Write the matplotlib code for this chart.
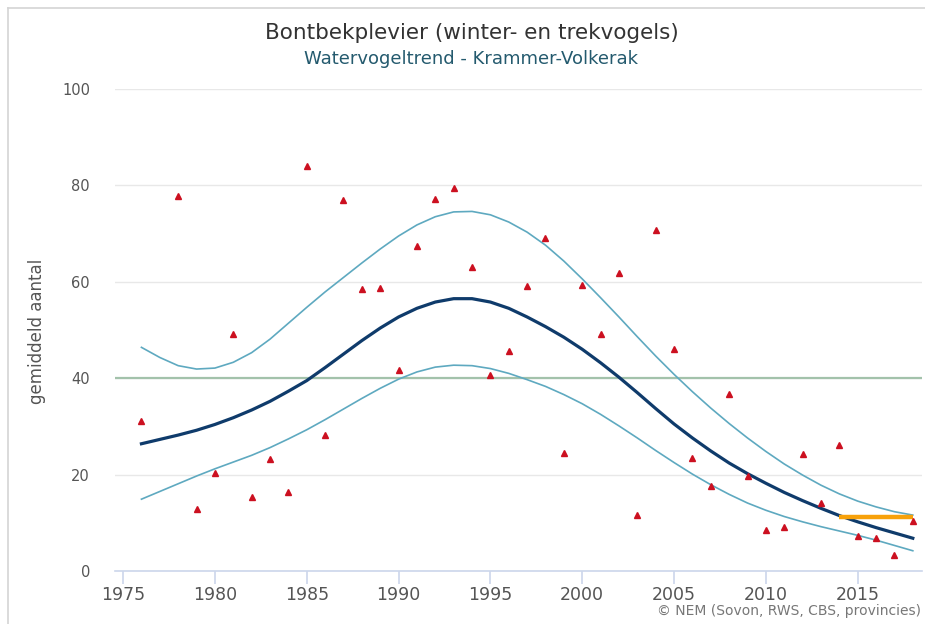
import matplotlib
matplotlib.use("Agg")
import matplotlib.pyplot as plt
from matplotlib.lines import Line2D

# --- data -------------------------------------------------------------
years = list(range(1976, 2019))

counts = [31.2, None, 77.8, 12.9, 20.4, 49.2, 15.3, 23.3, 16.3, 84.0,
          28.2, 76.9, 58.5, 58.8, 41.8, 67.5, 77.1, 79.4, 63.1, 40.6,
          45.6, 59.2, 69.1, 24.4, 59.4, 49.1, 61.9, 11.7, 70.8, 46.1,
          23.4, 17.6, 36.8, 19.7, 8.5, 9.1, 24.3, 14.2, 26.2, 7.2,
          6.9, 3.3, 10.3]

trend = [26.4, 27.3, 28.2, 29.2, 30.4, 31.8, 33.4, 35.2, 37.3, 39.5,
         42.2, 45.0, 47.8, 50.4, 52.7, 54.5, 55.8, 56.5, 56.5, 55.8,
         54.5, 52.7, 50.7, 48.5, 46.0, 43.2, 40.2, 37.0, 33.7, 30.5,
         27.6, 24.9, 22.4, 20.2, 18.2, 16.3, 14.6, 13.0, 11.5, 10.2,
         9.0, 7.9, 6.8]

upper = [46.4, 44.3, 42.6, 41.9, 42.1, 43.3, 45.3, 48.1, 51.4, 54.7,
         57.9, 60.9, 63.9, 66.8, 69.5, 71.8, 73.5, 74.5, 74.6, 73.9,
         72.4, 70.3, 67.6, 64.3, 60.6, 56.7, 52.7, 48.6, 44.6, 40.8,
         37.2, 33.8, 30.6, 27.6, 24.8, 22.2, 19.9, 17.8, 16.0, 14.5,
         13.3, 12.3, 11.6]

lower = [14.9, 16.5, 18.1, 19.7, 21.2, 22.6, 24.0, 25.6, 27.4, 29.3,
         31.4, 33.6, 35.8, 37.9, 39.8, 41.3, 42.3, 42.7, 42.6, 42.0,
         41.0, 39.7, 38.3, 36.6, 34.7, 32.5, 30.1, 27.6, 25.0, 22.5,
         20.1, 17.9, 15.9, 14.1, 12.6, 11.3, 10.2, 9.2, 8.3, 7.4,
         6.4, 5.3, 4.2]

recent_years = [2014, 2018]
recent_level = [11.3, 11.3]

reference_level = 40

x_ticks = [1975, 1980, 1985, 1990, 1995, 2000, 2005, 2010, 2015]
y_ticks = [0, 20, 40, 60, 80, 100]

# --- figure -----------------------------------------------------------
W, H = 925, 624
fig = plt.figure(figsize=(W / 100, H / 100), dpi=100)
fig.patch.set_facecolor("white")

ax = fig.add_axes([115 / W, 1 - 571 / H, (922 - 115) / W, (571 - 89) / H])
ax.set_xlim(1974.56, 2018.5)
ax.set_ylim(0, 100)

for s in ("left", "right", "top"):
    ax.spines[s].set_visible(False)
ax.spines["bottom"].set_color("#ccd6eb")
ax.spines["bottom"].set_linewidth(1.2)

ax.set_yticks(y_ticks)
ax.yaxis.grid(True, color="#e8e8e8", linewidth=1.0)
ax.set_axisbelow(True)
ax.tick_params(axis="y", length=0, pad=18, labelsize=10.5, labelcolor="#555555")

ax.set_xticks(x_ticks)
ax.tick_params(axis="x", length=9, width=1.2, color="#ccd6eb", pad=2,
               labelsize=12.5, labelcolor="#555555")
for lbl in ax.get_xticklabels():
    lbl.set_family(["Liberation Sans Narrow", "DejaVu Sans"])

# reference level
ax.axhline(reference_level, color="#a3c2ab", linewidth=1.6, zorder=2)

# confidence band and trend
ax.plot(years, upper, color="#5ea9c0", linewidth=1.2, zorder=3)
ax.plot(years, lower, color="#5ea9c0", linewidth=1.2, zorder=3)
ax.plot(years, trend, color="#0f3b6b", linewidth=2.3, zorder=4)

# recent level
ax.plot(recent_years, recent_level, color="#f7a10a", linewidth=3.2,
        solid_capstyle="butt", zorder=5)

# yearly counts
pts_x = [y for y, c in zip(years, counts) if c is not None]
pts_y = [c for c in counts if c is not None]
ax.plot(pts_x, pts_y, linestyle="none", marker="^", markersize=4.6,
        color="#cc1020", zorder=6)

# --- texts ------------------------------------------------------------
fig.text(472 / W, 1 - 33 / H, "Bontbekplevier (winter- en trekvogels)",
         ha="center", va="center", fontsize=15.5, color="#333333")
fig.text(471 / W, 1 - 59 / H, "Watervogeltrend - Krammer-Volkerak",
         ha="center", va="center", fontsize=13, color="#245a6e")
fig.text(37 / W, 1 - 331 / H, "gemiddeld aantal", rotation=90,
         ha="center", va="center", fontsize=12, color="#555555")
fig.text(921 / W, 1 - 611 / H, "\u00a9 NEM (Sovon, RWS, CBS, provincies)",
         ha="right", va="center", fontsize=10, color="#777777",
         family=["Liberation Sans Narrow", "DejaVu Sans"])

# outer frame edges
fig.add_artist(Line2D([8 / W, 8 / W], [0, 1 - 8 / H], transform=fig.transFigure,
                      color="#d4d4d4", linewidth=1.2))
fig.add_artist(Line2D([8 / W, 1], [1 - 8 / H, 1 - 8 / H], transform=fig.transFigure,
                      color="#d4d4d4", linewidth=1.2))

fig.savefig("out.png", dpi=100)
